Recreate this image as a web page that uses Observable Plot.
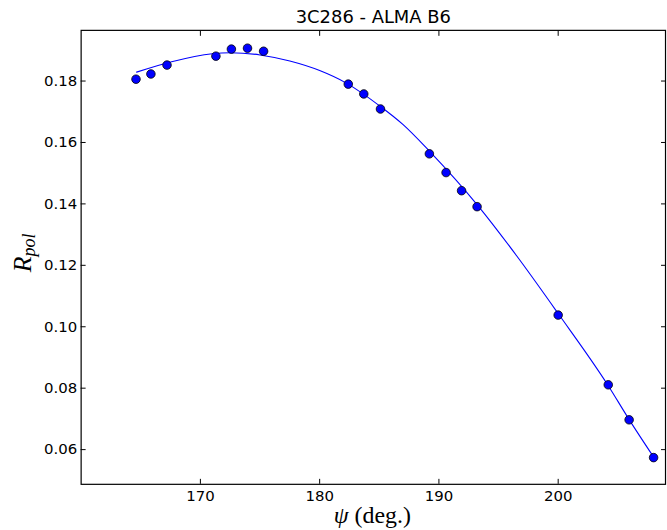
<!DOCTYPE html>
<html>
<head>
<meta charset="utf-8">
<script src="https://cdn.jsdelivr.net/npm/d3@7"></script>
<script src="https://cdn.jsdelivr.net/npm/@observablehq/plot@0.6"></script>
<style>
  html, body { margin: 0; padding: 0; background: #fff; overflow: hidden; }
  #chart { width: 667px; height: 530px; overflow: hidden; }
</style>
</head>
<body>
<div id="chart"></div>
<script>
// Measured points
const psiData = [164.6, 165.85, 167.2, 171.3, 172.6, 173.95, 175.3, 182.4, 183.7, 185.1, 189.2, 190.6, 191.9, 193.2, 200.0, 204.2, 205.95, 208.0];
const rpolData = [0.1806, 0.1823, 0.1852, 0.1881, 0.1904, 0.1907, 0.1897, 0.1790, 0.1758, 0.1709, 0.1563, 0.1502, 0.1443, 0.1391, 0.1038, 0.0811, 0.0697, 0.0574];

// Fitted curve
const fitPsi = [164.65, 167.5, 171.0, 172.5, 175.0, 177.5, 180.0, 182.2, 185.0, 187.0, 189.2, 193.3, 196.5, 200.0, 204.2, 205.9, 208.0];
const fitRpol = [0.1829, 0.1862, 0.1889, 0.1892, 0.1885, 0.1865, 0.1834, 0.1794, 0.1720, 0.1658, 0.1572, 0.1393, 0.1232, 0.1043, 0.0808, 0.0701, 0.0576];

// Tick values
const xTicks = [170, 180, 190, 200];
const yTicks = [0.06, 0.08, 0.10, 0.12, 0.14, 0.16, 0.18];

const titleText = "3C286 - ALMA B6";

const points = psiData.map((x, i) => ({x, y: rpolData[i]}));
const fit = fitPsi.map((x, i) => ({x, y: fitRpol[i]}));

const plot = Plot.plot({
  width: 670,
  height: 530,
  marginLeft: 81,
  marginRight: 2,
  marginTop: 30,
  marginBottom: 44,
  style: {fontFamily: "DejaVu Sans", fontSize: "15px", background: "#fff", color: "#000", overflow: "visible"},
  x: {domain: [160, 209]},
  y: {domain: [0.0487, 0.1965]},
  marks: [
    Plot.line(fit, {x: "x", y: "y", stroke: "#0000ff", strokeWidth: 1.1, curve: "monotone-x"}),
    Plot.dot(points, {x: "x", y: "y", r: 4.3, fill: "#0000ff", stroke: "#000", strokeWidth: 0.8}),
    Plot.frame({stroke: "#000", strokeWidth: 1.2}),
    Plot.axisX({anchor: "bottom", ticks: xTicks, tickSize: -5, tickFormat: () => "", label: null}),
    Plot.axisX({anchor: "top", ticks: xTicks, tickSize: -5, tickFormat: () => "", label: null}),
    Plot.axisY({anchor: "left", ticks: yTicks, tickSize: -5, tickFormat: () => "", label: null}),
    Plot.axisY({anchor: "right", ticks: yTicks, tickSize: -5, tickFormat: () => "", label: null}),
    Plot.axisX({anchor: "bottom", ticks: xTicks, tickSize: 0, tickPadding: 6, tickFormat: d3.format("d"), label: null, fontSize: 15}),
    Plot.axisY({anchor: "left", ticks: yTicks, tickSize: 0, tickPadding: 4, tickFormat: d3.format(".2f"), label: null, fontSize: 15}),
    Plot.text([titleText], {frameAnchor: "top", dy: -7, lineAnchor: "bottom", fontSize: 18, fill: "#000"})
  ]
});

document.getElementById("chart").appendChild(plot);

// Axis titles with math-style italics
const svg = d3.select(plot);
const xl = svg.append("text")
  .attr("x", 374).attr("y", 525)
  .attr("text-anchor", "middle")
  .attr("font-family", "Liberation Serif")
  .attr("font-size", 24)
  .attr("fill", "#000");
xl.append("tspan").attr("font-style", "italic").text("ψ");
xl.append("tspan").text(" (deg.)");

const yl = svg.append("text")
  .attr("transform", "translate(31,254) rotate(-90)")
  .attr("text-anchor", "middle")
  .attr("font-family", "Liberation Serif")
  .attr("font-size", 26)
  .attr("fill", "#000");
yl.append("tspan").attr("font-style", "italic").text("R");
yl.append("tspan").attr("font-style", "italic").attr("font-size", 18).attr("dy", 4).text("pol");
</script>
</body>
</html>
